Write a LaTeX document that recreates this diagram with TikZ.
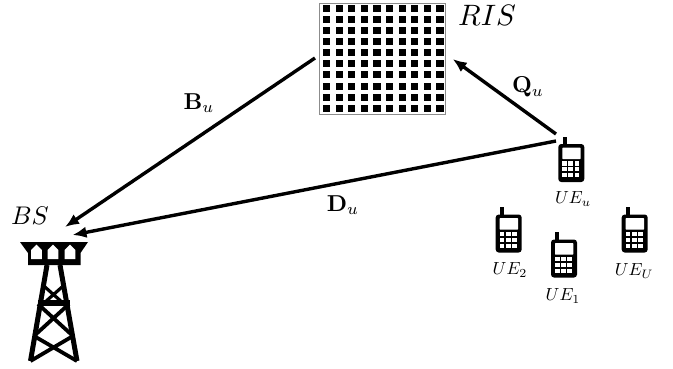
\documentclass[tikz,border=0pt]{standalone}
\usepackage{tikz}
\usetikzlibrary{arrows.meta,positioning}
\tikzstyle{link} = [draw, -{Latex[length=14pt,width=11.5pt]}, line width=3.4pt]
\tikzstyle{panel} = [draw=black!45, line width=0.8pt, rectangle, inner sep=0pt, minimum width=126pt, minimum height=111pt]
\tikzstyle{tag} = [inner sep=0pt, scale=1.75]
\tikzstyle{chan} = [inner sep=0pt, scale=2.3]
\tikzstyle{big} = [inner sep=0pt, scale=2.95]
\tikzstyle{mid} = [inner sep=0pt, scale=2.55]
\tikzset{
    handset/.pic={
        \fill[black, rounded corners=3pt] (0,0) rectangle (26,38);
        \fill[black] (4.4,0) rectangle (8.4,-7.5);
        \fill[white, rounded corners=0.5pt] (4,3.7) rectangle (22.4,15);
        \foreach \i in {0,1,2} \foreach \j in {0,1,2}
            \fill[white] (3.8+6.2*\i,17.2+5.9*\j) rectangle +(4.8,4.3);
    }
}
\begin{document}
\begin{tikzpicture}[x=1pt, y=-1pt]
    \useasboundingbox (0,0) rectangle (673,368);
    % surface
    \node[panel] (ris) at (382.8,58.5) {};
    \foreach \i in {0,...,9} \foreach \j in {0,...,9}
        \fill (323+12.6*\i,4.8+11.1*\j) rectangle +(7.2,7);
    \node[big] (ristext) at (487,15) {$RIS$};
    % tower
    \node[mid] (bstext) at (30,216) {$BS$};
    \coordinate (bstop) at (65,227);
    \coordinate (bsfeed) at (72.5,235);
    \fill (20,242) -- (88,242) -- (80.5,253) -- (80.5,265) -- (28,265) -- (28,253) -- cycle;
    \foreach \x in {36.5,53,70}
        \fill[white] (\x-5.4,250) -- (\x,244.5) -- (\x+5.4,250) -- (\x+5.4,259) -- (\x-5.4,259) -- cycle;
    \draw[line width=5pt] (47,265) -- (30.5,361);
    \draw[line width=5pt] (60,265) -- (77,361);
    \draw[line width=5.5pt] (38,303) -- (69.5,303);
    \draw[line width=3.2pt] (45,287) -- (63,303) (62,287) -- (44,303);
    \draw[line width=3.8pt] (38,304) -- (73,336) (69,304) -- (34,336);
    \draw[line width=3.8pt] (34,336) -- (77,361) (73,336) -- (30.5,361);
    % handsets
    \pic (ueu) at (558.3,144) {handset};
    \pic (ueb) at (495.7,214.5) {handset};
    \pic (uea) at (551,239.5) {handset};
    \pic (uec) at (621.7,214.5) {handset};
    \node[tag] (ueutext) at (573,199) {$UE_u$};
    \node[tag] (uebtext) at (510,270) {$UE_2$};
    \node[tag] (ueatext) at (563,296) {$UE_1$};
    \node[tag] (uectext) at (634,271) {$UE_U$};
    \coordinate (ueq) at (556,134);
    \coordinate (ued) at (556,141);
    \coordinate (risq) at (452.7,59);
    \coordinate (risb) at (315,58);
    % channels
    \path[link] (risb) -- (bstop);
    \path[link] (ueq) -- (risq);
    \path[link] (ued) -- (bsfeed);
    \node[chan] (blabel) at (199,103) {$\mathbf{B}_u$};
    \node[chan] (qlabel) at (528,87) {$\mathbf{Q}_u$};
    \node[chan] (dlabel) at (343,205) {$\mathbf{D}_u$};
\end{tikzpicture}
\end{document}
